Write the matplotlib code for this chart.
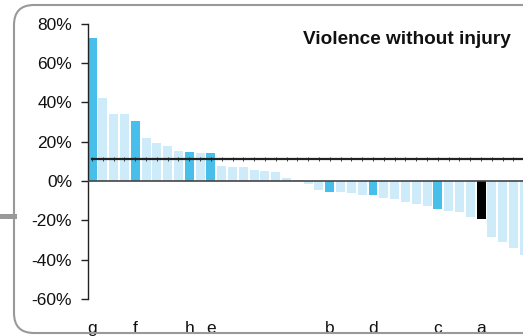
import matplotlib.pyplot as plt
import matplotlib.transforms as mtransforms
from matplotlib.patches import FancyBboxPatch
from matplotlib.lines import Line2D

plt.rcParams['font.family'] = ['Liberation Sans', 'DejaVu Sans']

values = [72.6, 42.2, 34.0, 34.0, 30.5, 21.8, 19.3, 17.8, 15.2, 14.7,
          14.2, 14.2, 7.6, 7.1, 7.1, 5.6, 5.1, 4.6, 1.3, 0.7,
          -1.5, -4.6, -5.6, -5.6, -6.1, -7.1, -7.1, -8.6, -9.1, -10.7,
          -11.7, -12.7, -14.2, -15.2, -15.7, -18.3, -19.3, -28.4, -31.0, -34.0,
          -37.6]
highlight = [0, 4, 9, 11, 22, 26, 32]
black_bar = 36
labels = {0: "g", 4: "f", 9: "h", 11: "e", 22: "b", 26: "d", 32: "c", 36: "a"}
average = 11.0
yticks = [-60, -40, -20, 0, 20, 40, 60, 80]

light = "#CDEBF8"
blue = "#47BFEA"

colors = []
for i in range(len(values)):
    if i == black_bar: colors.append("black")
    elif i in highlight: colors.append(blue)
    else: colors.append(light)

W, H = 523, 336
fig = plt.figure(figsize=(W / 100, H / 100), dpi=100)
ax = fig.add_axes([87.5 / W, 37 / H, (W - 87.5) / W, 275.5 / H])

xs = list(range(len(values)))
ax.bar(xs, values, width=0.83, color=colors, zorder=2)
ax.axhline(0, color="#444444", lw=1.2, zorder=3)
ax.plot(xs, [average] * len(xs), color="#222222", lw=1.6, marker="|",
        markersize=2.5, markeredgewidth=0.6, zorder=4)

ax.set_xlim(-0.42, 39.88)
ax.set_ylim(-60, 80)
ax.set_yticks(yticks)
ax.set_yticklabels([f"{v}%" for v in yticks])
ax.tick_params(axis="y", length=5, width=1, color="#222222", pad=6,
               labelsize=12.5, labelcolor="#111111")
ax.set_xticks([])
for s in ["top", "right", "bottom"]:
    ax.spines[s].set_visible(False)
ax.spines["left"].set_color("#222222")
ax.spines["left"].set_linewidth(1)

trans = mtransforms.blended_transform_factory(ax.transData, fig.transFigure)
for i, lab in labels.items():
    ax.text(i, 3 / H, lab, transform=trans, ha="center", va="baseline",
            fontsize=12.5, color="#111111", clip_on=False)

fig.text(511 / W, (H - 44) / H, "Violence without injury", ha="right",
         va="baseline", fontsize=13.7, fontweight="bold", color="#111111")

# rounded frame (runs off the right edge) and the little stub on the left
frame = FancyBboxPatch((0.14, 0.03), 5.6, 3.28,
                       boxstyle="round,pad=0,rounding_size=0.2",
                       transform=fig.dpi_scale_trans, fill=False,
                       edgecolor="#999999", lw=1.5, zorder=10)
fig.patches.append(frame)
fig.lines.append(Line2D([0, 14 / W], [(H - 216) / H] * 2, transform=fig.transFigure,
                        color="#999999", lw=3.6))

fig.savefig("out.png", dpi=100)
